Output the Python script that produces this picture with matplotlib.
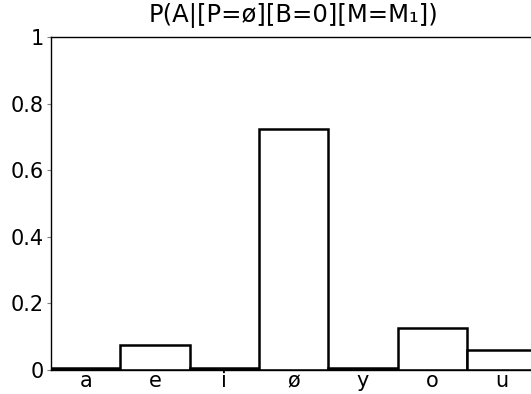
import matplotlib
matplotlib.use("Agg")
import matplotlib.pyplot as plt
import numpy as np

# vowel posterior given the conditioning context
vowels = ['a', 'e', 'i', 'ø', 'y', 'o', 'u']
probs = [0.004, 0.075, 0.004, 0.723, 0.004, 0.124, 0.058]
yticks = [0, 0.2, 0.4, 0.6, 0.8, 1]
ytick_labels = ['0', '0.2', '0.4', '0.6', '0.8', '1']

fig = plt.figure(figsize=(5.31, 3.94), dpi=100)
ax = fig.add_axes([0.096, 0.062, 0.914, 0.843])

x = np.arange(len(vowels))
ax.bar(x, probs, width=1.0, align='edge', color='white',
       edgecolor='black', linewidth=1.8)

ax.set_xlim(0, len(vowels))
ax.set_ylim(0, 1)
ax.set_xticks(x + 0.5)
ax.set_xticklabels(vowels, fontsize=15)
ax.tick_params(axis='x', length=0, pad=1)
ax.set_yticks(yticks)
ax.set_yticklabels(ytick_labels, fontsize=15)
ax.tick_params(axis='y', direction='out', length=3, width=0.8,
               color='gray', pad=2, right=False)
for s in ax.spines.values():
    s.set_linewidth(1.0)

ax.set_title('P(A|[P=ø][B=0][M=M\u2081])', fontsize=17.5, pad=11)

fig.savefig('out.png', dpi=100)
